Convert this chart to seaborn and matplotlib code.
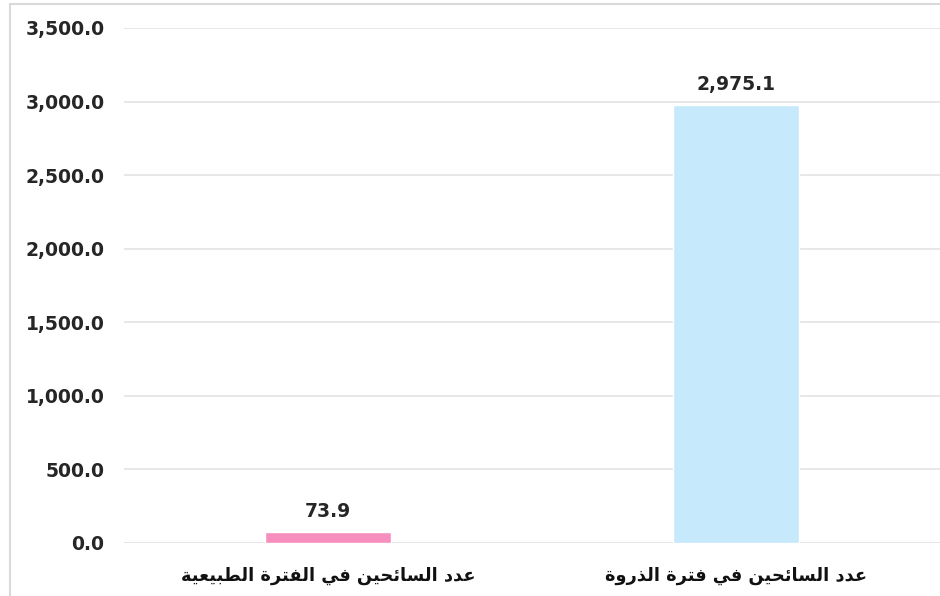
import matplotlib
matplotlib.use("Agg")
import matplotlib.pyplot as plt
import seaborn as sns
import pandas as pd
from matplotlib.ticker import FuncFormatter

# ---- data ----
categories = ["عدد السائحين في الفترة الطبيعية", "عدد السائحين في فترة الذروة"]
values = [73.9, 2975.1]
bar_colors = ["#F78FBE", "#C6E9FB"]
y_ticks = [0, 500, 1000, 1500, 2000, 2500, 3000, 3500]

# ---- minimal Arabic shaping (presentation forms + RTL reversal) ----
FORMS = {  # isolated, final, initial, medial
    "\u0627": ("\uFE8D", "\uFE8E", None, None),
    "\u0628": ("\uFE8F", "\uFE90", "\uFE91", "\uFE92"),
    "\u0629": ("\uFE93", "\uFE94", None, None),
    "\u062A": ("\uFE95", "\uFE96", "\uFE97", "\uFE98"),
    "\u062D": ("\uFEA1", "\uFEA2", "\uFEA3", "\uFEA4"),
    "\u062F": ("\uFEA9", "\uFEAA", None, None),
    "\u0630": ("\uFEAB", "\uFEAC", None, None),
    "\u0631": ("\uFEAD", "\uFEAE", None, None),
    "\u0633": ("\uFEB1", "\uFEB2", "\uFEB3", "\uFEB4"),
    "\u0637": ("\uFEC1", "\uFEC2", "\uFEC3", "\uFEC4"),
    "\u0639": ("\uFEC9", "\uFECA", "\uFECB", "\uFECC"),
    "\u0641": ("\uFED1", "\uFED2", "\uFED3", "\uFED4"),
    "\u0644": ("\uFEDD", "\uFEDE", "\uFEDF", "\uFEE0"),
    "\u0646": ("\uFEE5", "\uFEE6", "\uFEE7", "\uFEE8"),
    "\u0648": ("\uFEED", "\uFEEE", None, None),
    "\u064A": ("\uFEF1", "\uFEF2", "\uFEF3", "\uFEF4"),
    "\u0626": ("\uFE89", "\uFE8A", "\uFE8B", "\uFE8C"),
}


def dual(c):
    return c in FORMS and FORMS[c][2] is not None


def shape(text):
    out = []
    n = len(text)
    for i, c in enumerate(text):
        if c not in FORMS:
            out.append(c)
            continue
        prev = text[i - 1] if i > 0 else ""
        nxt = text[i + 1] if i < n - 1 else ""
        jp = dual(prev)
        jn = dual(c) and nxt in FORMS
        f = FORMS[c]
        if jp and jn:
            out.append(f[3])
        elif jp:
            out.append(f[1])
        elif jn:
            out.append(f[2])
        else:
            out.append(f[0])
    return "".join(reversed(out))


sns.set_theme(style="white")
plt.rcParams["font.family"] = ["DejaVu Sans"]

df = pd.DataFrame({"cat": categories, "val": values})

fig = plt.figure(figsize=(9.4, 5.96), dpi=100)
ax = fig.add_axes([124 / 940, 53 / 596, 816 / 940, 515 / 596])

sns.barplot(data=df, x="cat", y="val", hue="cat", palette=bar_colors,
            width=0.31, legend=False, ax=ax, saturation=1)

ax.set_ylim(0, 3500)
ax.set_yticks(y_ticks)
ax.yaxis.set_major_formatter(FuncFormatter(lambda v, p: f"{v:,.1f}"))
ax.grid(axis="y", color="#e3e3e3", linewidth=1.2)
ax.set_axisbelow(True)
for s in ax.spines.values():
    s.set_visible(False)
ax.tick_params(axis="y", length=0, pad=14, labelsize=13.5, labelcolor="#262626")
ax.tick_params(axis="x", length=0, pad=17, labelsize=12.8, labelcolor="#111111")
for t in ax.get_yticklabels():
    t.set_fontweight("bold")
ax.set_xticks(range(len(categories)))
ax.set_xticklabels([shape(c) for c in categories], fontweight="bold")
ax.set_xlabel("")
ax.set_ylabel("")

for container in ax.containers:
    ax.bar_label(container, labels=[f"{v:,.1f}" for v in container.datavalues],
                 padding=8, fontsize=13.5, fontweight="bold", color="#262626")

# light frame around the chart
fig.add_artist(plt.Line2D([10 / 940, 10 / 940], [0, 1 - 4 / 596], color="#d9d9d9", lw=1.5))
fig.add_artist(plt.Line2D([10 / 940, 1], [1 - 4 / 596, 1 - 4 / 596], color="#d9d9d9", lw=1.5))

fig.savefig("out.png", dpi=100)
